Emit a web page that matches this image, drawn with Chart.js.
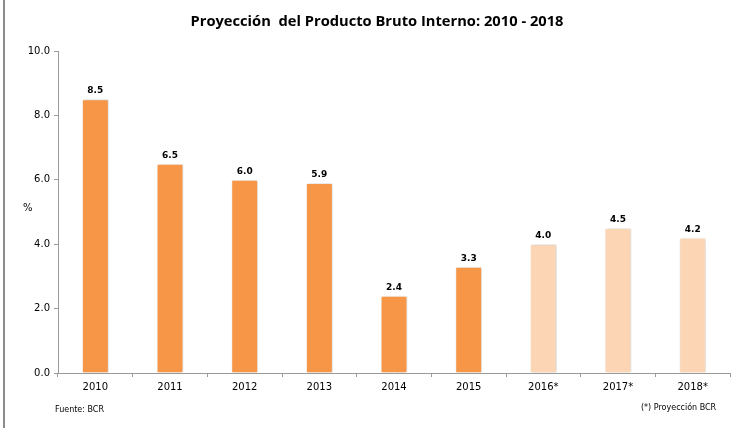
<!DOCTYPE html>
<html>
<head>
<meta charset="utf-8">
<script src="https://cdn.jsdelivr.net/npm/chart.js@4.4.1/dist/chart.umd.min.js"></script>
<style>
  html, body { margin: 0; padding: 0; background: #fff; }
  .frame { position: relative; width: 747px; height: 428px; }
  .frame::before { content: ""; position: absolute; left: 3px; top: 0; bottom: 0; width: 2px; background: #8c8c8c; }
  canvas { position: absolute; left: 0; top: 0; }
  .note { position: absolute; font-family: "DejaVu Sans", Verdana, sans-serif; color: #000; white-space: nowrap; }
  .title { position: absolute; left: 0; top: 10px; width: 754px; text-align: center; font-family: "Open Sans", sans-serif; font-weight: bold; font-size: 14.7px; line-height: 20px; white-space: pre; color: #000; }
</style>
</head>
<body>
<div class="frame">
  <canvas id="chart-pbi" width="747" height="428"></canvas>
  <div class="title">Proyección  del Producto Bruto Interno: 2010 - 2018</div>
  <div class="note" style="left:23px; top:202px; font-size:10px;">%</div>
  <div class="note" style="left:55px; top:405px; font-size:8px;">Fuente: BCR</div>
  <div class="note" style="left:641px; top:403px; font-size:8px;">(*) Proyección BCR</div>
</div>
<script>
const years = ["2010", "2011", "2012", "2013", "2014", "2015", "2016*", "2017*", "2018*"]
const growth = [8.5, 6.5, 6.0, 5.9, 2.4, 3.3, 4.0, 4.5, 4.2]
const projected = [false, false, false, false, false, false, true, true, true]
const yTicks = [0, 2, 4, 6, 8, 10]

const axisGray = "#9a9a9a"
const tickFont = { family: "'DejaVu Sans', Verdana, sans-serif", size: 10 }

// valores encima de cada barra + sombra suave
const barLabels = {
  id: "barLabels",
  beforeDatasetsDraw(chart) {
    const ctx = chart.ctx
    ctx.save()
    ctx.shadowColor = "rgba(0,0,0,0.22)"
    ctx.shadowBlur = 3
    ctx.shadowOffsetX = 1
  },
  afterDatasetsDraw(chart) {
    const ctx = chart.ctx
    ctx.restore()
    ctx.save()
    ctx.font = "bold 9px 'DejaVu Sans', Verdana, sans-serif"
    ctx.fillStyle = "#000"
    ctx.textAlign = "center"
    ctx.textBaseline = "bottom"
    chart.getDatasetMeta(0).data.forEach((bar, i) => {
      ctx.fillText(growth[i].toFixed(1), bar.x, bar.y - 4)
    })
    ctx.restore()
  }
}

new Chart(document.getElementById("chart-pbi"), {
  type: "bar",
  data: {
    labels: years,
    datasets: [{
      data: growth,
      backgroundColor: projected.map(p => p ? "#fcd5b5" : "#f79646"),
      borderColor: "#ffffff",
      borderWidth: { left: 1, right: 1, top: 1, bottom: 0 },
      barPercentage: 0.36,
      categoryPercentage: 1
    }]
  },
  options: {
    responsive: false,
    animation: false,
    layout: { padding: { left: 0, right: 17, top: 51, bottom: 27 } },
    plugins: {
      legend: { display: false },
      tooltip: { enabled: false },
      title: { display: false }
    },
    scales: {
      x: {
        grid: { display: true, drawOnChartArea: false, offset: true, tickLength: 4, color: axisGray },
        border: { color: axisGray },
        ticks: { color: "#000", font: tickFont, padding: 4 },
        afterFit(scale) { scale.height = 28 }
      },
      y: {
        min: 0,
        max: 10,
        afterBuildTicks(scale) { scale.ticks = yTicks.map(v => ({ value: v })) },
        grid: { display: true, drawOnChartArea: false, tickLength: 4, color: axisGray },
        border: { color: axisGray },
        ticks: { color: "#000", font: tickFont, padding: 4, callback: v => v.toFixed(1) },
        afterFit(scale) { scale.width = 58 }
      }
    }
  },
  plugins: [barLabels]
})
</script>
</body>
</html>
